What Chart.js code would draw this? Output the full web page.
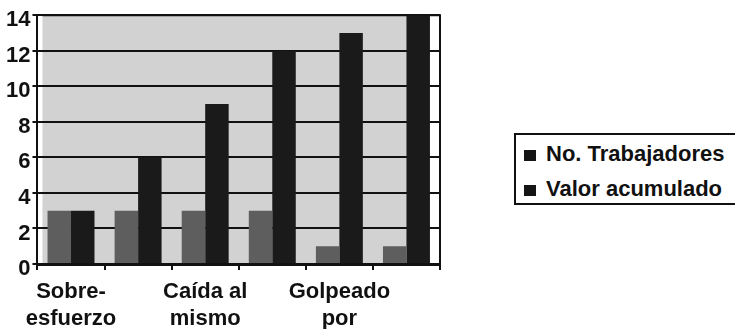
<!DOCTYPE html>
<html>
<head>
<meta charset="utf-8">
<script src="https://cdn.jsdelivr.net/npm/chart.js@4/dist/chart.umd.min.js"></script>
<style>
  body { margin: 0; background: #fff; }
  #wrap { position: relative; width: 735px; height: 329px; overflow: hidden; }
  #legendBox {
    position: absolute; left: 514px; top: 133px; width: 240px; height: 68px;
    border: 2px solid #111; background: #fff;
    font-family: Arial, "Liberation Sans", sans-serif; font-weight: 700; font-size: 22px; color: #111;
  }
  #legendBox div { position: absolute; left: 8px; height: 24px; line-height: 24px; white-space: nowrap; }
  #legendBox span { display: inline-block; width: 12px; height: 11px; margin-right: 10px; vertical-align: 0px; }
</style>
</head>
<body>
<div id="wrap">
  <canvas id="c" width="735" height="329"></canvas>
  <div id="legendBox"></div>
</div>
<script>
/* ===== DATA ===== */
const categories = [["Sobre-", "esfuerzo"], "", ["Caída al", "mismo"], "", ["Golpeado", "por"], ""];
const trabajadores = [3, 3, 3, 3, 1, 1];
const acumulado = [3, 6, 9, 12, 13, 14];
const seriesNames = ["No. Trabajadores", "Valor acumulado"];
const yTicks = [0, 2, 4, 6, 8, 10, 12, 14];

const colors = ["#5e5e5e", "#1a1a1a"];
const font = { family: "Arial, 'Liberation Sans', sans-serif", weight: 700, size: 22 };

/* ===== PLOT BACKGROUND + FRAME ===== */
const plotBg = {
  id: "plotBg",
  beforeDraw(chart) {
    const { ctx, chartArea: a } = chart;
    ctx.save();
    ctx.fillStyle = "#d2d2d2";
    ctx.fillRect(a.left + 5, a.top, a.width - 15, a.height);
    ctx.strokeStyle = "#111";
    ctx.lineWidth = 2;
    ctx.beginPath();
    ctx.moveTo(a.left + 5, a.top);
    ctx.lineTo(a.right, a.top);
    ctx.lineTo(a.right, a.bottom);
    ctx.stroke();
    ctx.restore();
  }
};

/* ===== CHART ===== */
new Chart(document.getElementById("c"), {
  type: "bar",
  data: {
    labels: categories,
    datasets: [
      { label: seriesNames[0], data: trabajadores, backgroundColor: colors[0] },
      { label: seriesNames[1], data: acumulado, backgroundColor: colors[1] }
    ]
  },
  options: {
    responsive: false,
    animation: false,
    layout: { padding: { left: 4, right: 295, top: 6, bottom: 0 } },
    datasets: { bar: { categoryPercentage: 0.7, barPercentage: 1 } },
    plugins: { legend: { display: false }, tooltip: { enabled: false } },
    scales: {
      x: {
        afterFit(s) { s.height = 65; },
        grid: { display: true, drawOnChartArea: false, offset: true, color: "#111", lineWidth: 2, tickLength: 6 },
        border: { color: "#111", width: 3 },
        ticks: { color: "#111", font: { ...font, lineHeight: 1.2 }, autoSkip: false, maxRotation: 0, padding: 9 }
      },
      y: {
        min: 0, max: 14,
        afterBuildTicks(s) { s.ticks = yTicks.map(v => ({ value: v })); },
        grid: { color: "#111", lineWidth: 2, tickLength: 5 },
        border: { color: "#111", width: 2 },
        ticks: { color: "#111", font, padding: 2, labelOffset: 5 }
      }
    }
  },
  plugins: [plotBg]
});

/* ===== LEGEND ===== */
const box = document.getElementById("legendBox");
seriesNames.forEach((n, i) => {
  const d = document.createElement("div");
  d.style.top = (7 + i * 35) + "px";
  d.innerHTML = `<span style="background:#151515"></span>${n}`;
  box.appendChild(d);
});
</script>
</body>
</html>
